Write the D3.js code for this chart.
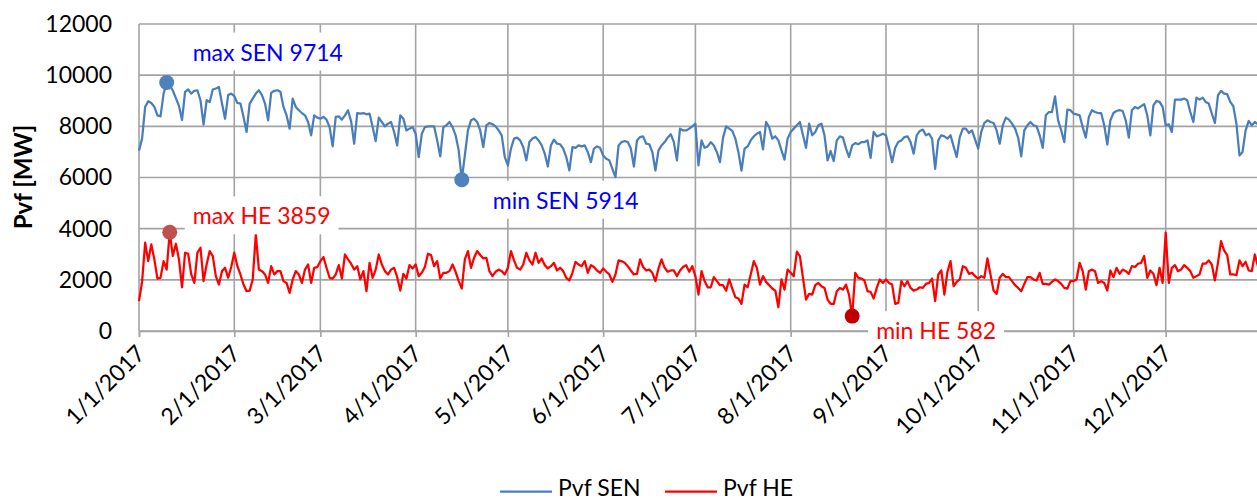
<!DOCTYPE html>
<html>
<head>
<meta charset="utf-8">
<script src="https://cdn.jsdelivr.net/npm/d3@7"></script>
<style>
  body { margin: 0; background: #fff; }
  svg { display: block; font-family: Lato, "Open Sans", sans-serif; }
</style>
</head>
<body>
<svg id="chart"></svg>
<script>
// daily values from 1/1/2017 to 12/31/2017, one line per month
var senMW = [
  7050,7520,8760,8980,8910,8760,8430,8390,9280,9714,9600,9400,9100,8800,8250,9350,9440,9280,9390,9410,9020,8070,9020,8950,9440,9480,9540,8890,8300,9220,9280,
  9180,8915,8890,8370,7780,8890,9085,9280,9410,9220,8890,8235,9310,9390,9410,9350,8760,8430,7910,9085,8760,8630,8520,8430,8170,7650,8430,8340,
  8300,8370,8260,7970,7215,8370,8390,8260,8430,8630,8200,7320,8520,8500,8520,8470,8500,7970,7425,8340,8170,8000,8105,8170,7780,7255,8430,8300,7840,7910,7970,
  7710,6800,7710,7970,8000,8000,8000,7450,6830,7970,8040,8170,7970,7650,7060,5914,6860,7840,8235,8300,8170,7840,7190,8040,8130,8080,8000,7840,7650,6800,
  6470,7130,7520,7560,7450,7190,6670,7385,7520,7580,7450,7255,6930,6430,7255,7480,7320,7300,7130,6800,6275,7190,7160,7255,7215,7255,6990,6600,7130,7215,7160,
  6860,6730,6670,6340,6015,7255,7385,7425,7385,7130,6430,7450,7580,7610,7320,7300,6990,6275,7060,7255,7385,7560,7690,7385,6670,7910,7840,7840,7910,8000,
  8105,6470,7450,7160,7215,7385,7255,6990,6600,7560,8000,7910,7820,7520,6990,6270,7130,7215,7450,7610,7710,7780,7100,8170,7970,7520,7610,7450,7060,6700,7520,
  7780,7910,8040,8170,7650,7160,8105,7650,7780,8040,8105,7650,6670,7035,6640,7450,7610,7560,7130,6800,7255,7345,7300,7385,7385,7450,6770,7780,7610,7650,7710,
  7650,7160,6600,7160,7385,7450,7580,7610,7385,6930,7650,7820,7870,7650,7710,7520,6340,7450,7650,7610,7520,7650,7215,6800,7580,7910,7910,7740,7840,7480,
  7130,7780,8130,8235,8170,8130,7840,7320,8040,8340,8260,8105,7910,7560,6830,7840,8040,8170,8040,8000,7650,7160,8430,8560,8560,9175,8235,7840,7385,8650,8630,
  8500,8470,8430,7970,7560,8370,8630,8560,8520,8520,8040,7290,8235,8520,8600,8630,8600,8235,7560,8630,8760,8700,8790,8870,8430,7650,8820,8990,8955,8760,
  8040,8080,7780,9046,9046,9046,9085,9020,8560,8170,9124,9046,9124,8955,8890,8500,8130,9215,9385,9280,9255,8955,8785,8105,6860,7000,7840,8210,8040,8170,8080
];
var heMW = [
  1165,1920,3450,2730,3385,2800,2050,2080,2730,2400,3859,2930,3410,2800,1710,3060,3020,2210,1880,3060,3255,1950,2600,3125,2930,2145,1815,2340,2470,2080,2500,
  3060,2535,2210,1815,1555,1580,2015,3780,2400,2340,2210,1880,2535,2210,2340,2340,1950,1880,1490,2015,2340,2210,1880,2400,2600,1880,2470,2500,
  2730,2890,2470,2080,2050,2210,2575,2050,2990,2800,2630,2400,2535,2015,2340,1555,2665,2080,2400,2990,2600,2340,2210,2400,2470,2105,1580,2235,2050,2575,2445,
  2600,2145,2275,2500,3020,2970,2535,2730,2050,2275,2275,2340,2600,2315,1950,1660,2800,3125,2470,2860,3125,2970,2835,2860,2340,2145,2315,2400,2340,2210,
  2470,3125,2760,2470,2400,2600,3060,2760,2600,3060,2665,2835,2575,2445,2535,2665,2365,2470,2340,2080,1975,2275,2705,2600,2535,2730,2275,2575,2500,2365,2275,
  2445,2315,2210,1920,2210,2760,2730,2665,2535,2365,2210,2235,2800,2500,2365,2400,2275,1950,2445,2800,2470,2315,2365,2365,2145,2365,2500,2575,2315,2535,
  2145,1425,2340,1950,1710,1710,2105,1950,1790,1790,1580,2015,1660,1320,1270,1060,1815,1710,2210,2730,2470,1815,2145,1920,1790,1660,1580,930,2015,1620,2400,
  2275,2145,3100,2930,2080,1230,1450,1425,1790,1880,1750,1685,1230,1060,1060,1555,1685,1620,1815,1400,582,2275,2080,2050,1975,1555,1530,1270,1685,2015,1880,
  2015,1880,1815,1060,1100,1950,1750,1950,1685,1580,1620,1710,1685,1840,1880,2050,1165,2210,2365,1425,2315,2730,1750,1920,2015,2535,2470,2235,2275,2145,
  2050,2145,2080,2835,2210,1580,1450,2080,2235,2105,2105,1950,1790,1685,1555,1840,2105,2105,2015,1975,2275,1840,1840,1815,1920,2015,1950,1840,1685,1660,1950,
  1950,2015,2665,2340,1620,2340,2400,2340,1880,1950,1880,1580,2365,2105,2470,2235,2400,2340,2235,2535,2500,2630,2665,2930,2080,2365,2235,1790,2470,1880,
  3845,1880,2470,2575,2340,2400,2575,2470,2340,2080,2145,2210,2630,2630,2760,2600,1975,2665,3515,3150,2970,2210,2210,2180,2760,2535,2705,2365,2340,2990,2535
];
var monthTicks = ["2017-01-01","2017-02-01","2017-03-01","2017-04-01","2017-05-01","2017-06-01",
                  "2017-07-01","2017-08-01","2017-09-01","2017-10-01","2017-11-01","2017-12-01"];
var yTicks = [0, 2000, 4000, 6000, 8000, 10000, 12000];
var seriesNames = ["Pvf SEN", "Pvf HE"];
// extreme points: label, day index from 1/1/2017, value
var extremeLabels = ["max SEN 9714", "min SEN 5914", "max HE 3859", "min HE 582"];
var extremeDays = [9, 105, 10, 232];
var extremeValues = [9714, 5914, 3859, 582];

var W = 1257, H = 501;
var svg = d3.select("#chart").attr("width", W).attr("height", H);
svg.append("rect").attr("width", W).attr("height", H).attr("fill", "#fff");

var start = new Date(2017, 0, 1);
var parse = d3.timeParse("%Y-%m-%d");
var dayDate = function(i) { return d3.timeDay.offset(start, i); };

var x = d3.scaleTime().domain([start, new Date(2018, 0, 1)]).range([139, 1261]);
var y = d3.scaleLinear().domain([0, 12000]).range([331, 24]);
var gridColor = "#a3a3a3";
var fs = 23;
var fmt = d3.timeFormat("%-m/%-d/%Y");

// grid
svg.append("g").selectAll("line").data(yTicks).join("line")
    .attr("x1", 139).attr("x2", 1261)
    .attr("y1", d => y(d)).attr("y2", d => y(d))
    .attr("stroke", gridColor).attr("stroke-width", 1.6);
svg.append("g").selectAll("line").data(monthTicks.map(parse)).join("line")
    .attr("x1", d => x(d)).attr("x2", d => x(d))
    .attr("y1", y(12000)).attr("y2", y(0))
    .attr("stroke", gridColor).attr("stroke-width", 1.6);

// y axis labels
var yAxis = svg.append("g").attr("transform", "translate(139,0)")
    .call(d3.axisLeft(y).tickValues(yTicks).tickSize(0).tickPadding(27).tickFormat(d3.format("d")));
yAxis.select(".domain").remove();
yAxis.selectAll("text").attr("font-size", fs).attr("fill", "#000").attr("font-family", "Lato, sans-serif");

// x axis line + tick marks (labels come later, above the data labels)
var xAxis = svg.append("g").attr("transform", "translate(0," + y(0) + ")")
    .call(d3.axisBottom(x).tickValues(monthTicks.map(parse)).tickSizeOuter(0).tickSize(6).tickFormat(""));
xAxis.select(".domain").attr("stroke", gridColor).attr("stroke-width", 1.6);
xAxis.selectAll(".tick line").attr("stroke", gridColor).attr("stroke-width", 1.6);

// y title
svg.append("text")
    .attr("transform", "translate(32,177) rotate(-90)")
    .attr("text-anchor", "middle")
    .attr("font-size", 24).attr("font-weight", "bold")
    .text("Pvf [MW]");

// lines
var line = d3.line().x((d, i) => x(dayDate(i))).y(d => y(d));
svg.append("path").datum(senMW).attr("d", line)
    .attr("fill", "none").attr("stroke", "#4a7ebb").attr("stroke-width", 2.25).attr("stroke-linejoin", "round");
svg.append("path").datum(heMW).attr("d", line)
    .attr("fill", "none").attr("stroke", "#ff0000").attr("stroke-width", 2.25).attr("stroke-linejoin", "round");

// extreme markers + labels
var markerFill = ["#4f81bd", "#4f81bd", "#c0504d", "#c00000"];
var textFill = ["#0000ff", "#0000ff", "#ff0000", "#ff0000"];
var labelOff = [[26, -30], [31, 21], [23, -16], [24, 15]];
extremeLabels.forEach(function(lab, k) {
  var cx = x(dayDate(extremeDays[k])), cy = y(extremeValues[k]);
  svg.append("circle").attr("cx", cx).attr("cy", cy).attr("r", 7.5).attr("fill", markerFill[k]);
  var g = svg.append("g");
  var t = g.append("text")
      .attr("x", cx + labelOff[k][0]).attr("y", cy + labelOff[k][1])
      .attr("dy", "0.35em").attr("font-size", fs).attr("fill", textFill[k])
      .text(lab);
  var b = t.node().getBBox();
  g.insert("rect", "text")
      .attr("x", b.x - 8).attr("y", b.y - 5)
      .attr("width", b.width + 16).attr("height", b.height + 10)
      .attr("fill", "#fff");
});

// x tick labels
var xLabels = svg.append("g").attr("transform", "translate(0," + y(0) + ")")
    .call(d3.axisBottom(x).tickValues(monthTicks.map(parse)).tickSize(0).tickFormat(fmt));
xLabels.select(".domain").remove();
xLabels.selectAll(".tick line").remove();
xLabels.selectAll("text")
    .attr("font-size", fs).attr("fill", "#000").attr("font-family", "Lato, sans-serif")
    .attr("text-anchor", "end").attr("x", 0).attr("y", 0).attr("dy", 0)
    .attr("transform", "translate(7,24) rotate(-45)");

// legend
var legendColors = ["#4a7ebb", "#ff0000"];
var legendX = [500, 665];
var leg = svg.append("g").selectAll("g").data(seriesNames).join("g")
    .attr("transform", (d, i) => "translate(" + legendX[i] + ",0)");
leg.append("line").attr("x1", 0).attr("x2", 52).attr("y1", 491.5).attr("y2", 491.5)
    .attr("stroke", (d, i) => legendColors[i]).attr("stroke-width", 2.25);
leg.append("text").attr("x", 58).attr("y", 496).attr("font-size", fs).attr("fill", "#000").text(d => d);
</script>
</body>
</html>
